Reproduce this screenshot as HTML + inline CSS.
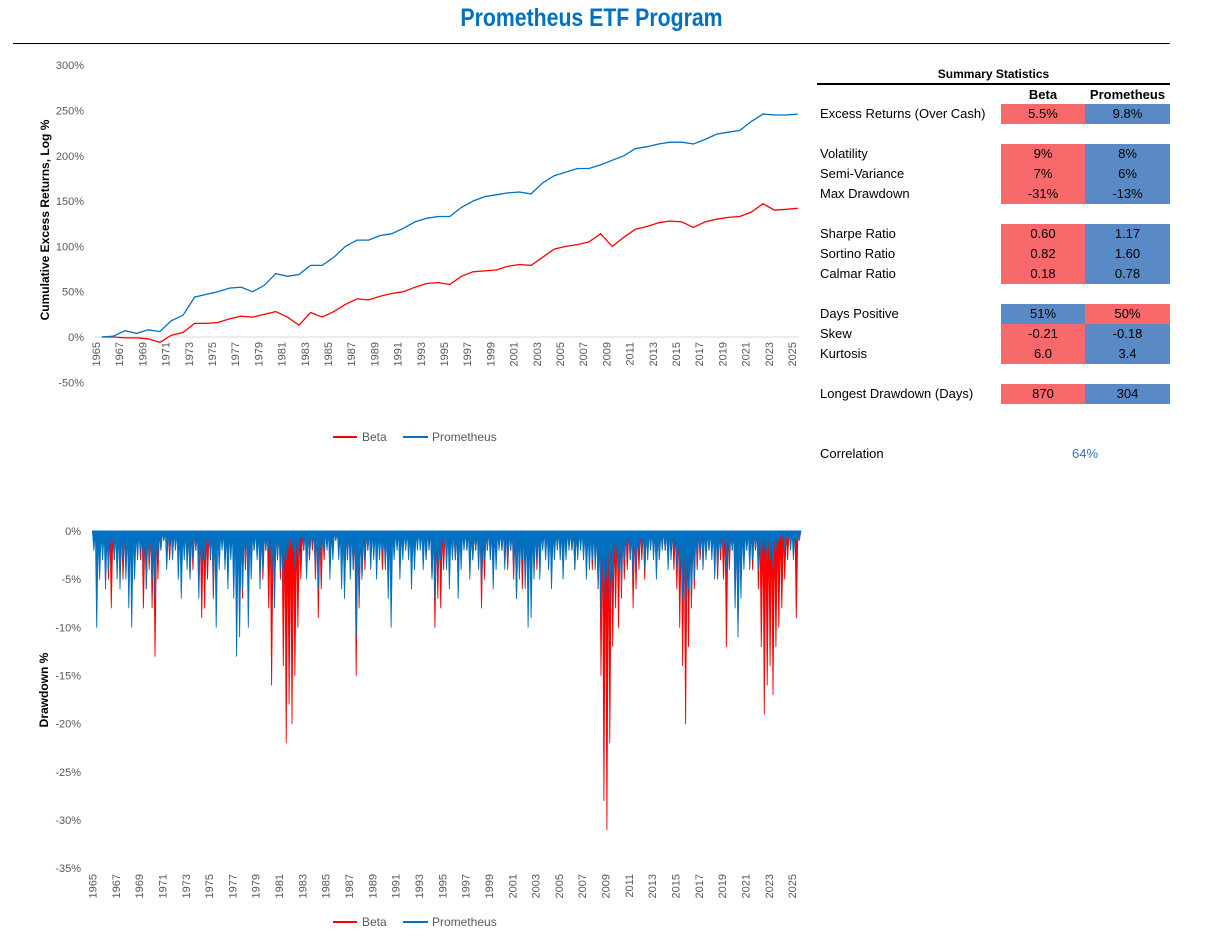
<!DOCTYPE html>
<html><head><meta charset="utf-8">
<style>
body{margin:0;width:1211px;height:951px;background:#fff;position:relative;overflow:hidden;font-family:"Liberation Sans",sans-serif}
.t{position:absolute;font-size:13px;color:#000;line-height:20px;white-space:nowrap}
.c{position:absolute;width:84px;height:20px;line-height:20px;text-align:center;font-size:13px;color:#000}
.r{background:#f8696b}.b{background:#5a8ac6}
</style></head><body>
<div style="position:absolute;left:0;width:1183px;top:4px;text-align:center;font-family:'Liberation Sans Narrow','Liberation Sans',sans-serif;font-weight:bold;font-size:25px;color:#0070c0;transform:scaleX(0.85)">Prometheus ETF Program</div>
<div style="position:absolute;left:13px;top:43px;width:1157px;height:1px;background:#000"></div>

<div>
<div class="t" style="left:817px;width:353px;text-align:center;top:64px;font-weight:bold;font-size:12px">Summary Statistics</div>
<div style="position:absolute;left:817px;top:83px;width:353px;height:2px;background:#000"></div>
<div class="t" style="left:1001px;width:84px;text-align:center;top:85px;font-weight:bold">Beta</div>
<div class="t" style="left:1085px;width:85px;text-align:center;top:85px;font-weight:bold">Prometheus</div>

<div class="t" style="left:820px;top:104px">Excess Returns (Over Cash)</div>
<div class="c r" style="left:1001px;top:104px">5.5%</div>
<div class="c b" style="left:1085px;top:104px;width:85px">9.8%</div>

<div class="t" style="left:820px;top:144px">Volatility</div>
<div class="c r" style="left:1001px;top:144px">9%</div>
<div class="c b" style="left:1085px;top:144px;width:85px">8%</div>
<div class="t" style="left:820px;top:164px">Semi-Variance</div>
<div class="c r" style="left:1001px;top:164px">7%</div>
<div class="c b" style="left:1085px;top:164px;width:85px">6%</div>
<div class="t" style="left:820px;top:184px">Max Drawdown</div>
<div class="c r" style="left:1001px;top:184px">-31%</div>
<div class="c b" style="left:1085px;top:184px;width:85px">-13%</div>

<div class="t" style="left:820px;top:224px">Sharpe Ratio</div>
<div class="c r" style="left:1001px;top:224px">0.60</div>
<div class="c b" style="left:1085px;top:224px;width:85px">1.17</div>
<div class="t" style="left:820px;top:244px">Sortino Ratio</div>
<div class="c r" style="left:1001px;top:244px">0.82</div>
<div class="c b" style="left:1085px;top:244px;width:85px">1.60</div>
<div class="t" style="left:820px;top:264px">Calmar Ratio</div>
<div class="c r" style="left:1001px;top:264px">0.18</div>
<div class="c b" style="left:1085px;top:264px;width:85px">0.78</div>

<div class="t" style="left:820px;top:304px">Days Positive</div>
<div class="c b" style="left:1001px;top:304px">51%</div>
<div class="c r" style="left:1085px;top:304px;width:85px">50%</div>
<div class="t" style="left:820px;top:324px">Skew</div>
<div class="c r" style="left:1001px;top:324px">-0.21</div>
<div class="c b" style="left:1085px;top:324px;width:85px">-0.18</div>
<div class="t" style="left:820px;top:344px">Kurtosis</div>
<div class="c r" style="left:1001px;top:344px">6.0</div>
<div class="c b" style="left:1085px;top:344px;width:85px">3.4</div>

<div class="t" style="left:820px;top:384px">Longest Drawdown (Days)</div>
<div class="c r" style="left:1001px;top:384px">870</div>
<div class="c b" style="left:1085px;top:384px;width:85px">304</div>

<div class="t" style="left:820px;top:444px">Correlation</div>
<div class="t" style="left:1001px;width:168px;text-align:center;top:444px;color:#2f75c7">64%</div>
</div>

<svg id="chart" width="1211" height="951" style="position:absolute;left:0;top:0" font-family="'Liberation Sans Narrow','Liberation Sans',sans-serif"></svg>

<script>
const years=[1965,1966,1967,1968,1969,1970,1971,1972,1973,1974,1975,1976,1977,1978,1979,1980,1981,1982,1983,1984,1985,1986,1987,1988,1989,1990,1991,1992,1993,1994,1995,1996,1997,1998,1999,2000,2001,2002,2003,2004,2005,2006,2007,2008,2009,2010,2011,2012,2013,2014,2015,2016,2017,2018,2019,2020,2021,2022,2023,2024,2025];
const betaCum=[0,0,-1,-1,-2,-6,2,5,15,15,16,20,23,22,25,28,22,13,27,22,28,36,42,41,45,48,50,55,59,60,58,67,72,73,74,78,80,79,88,97,100,102,105,114,100,110,119,122,126,128,127,121,127,130,132,133,138,147,140,141,142];
const promCum=[0,1,7,4,8,6,18,24,44,47,50,54,55,50,57,70,67,69,79,79,88,100,107,107,112,114,120,127,131,133,133,143,150,155,157,159,160,158,170,178,182,186,186,190,195,200,208,210,213,215,215,213,218,224,226,228,238,246,245,245,246];
const topTicks=[300,250,200,150,100,50,0,-50];
const ddTicks=[0,-5,-10,-15,-20,-25,-30,-35];
const betaDD=[-1,-3,-2,-1,-2,-5,-8,-3,-1,-3,-5,-2,-2,-4,-3,-1,-3,-8,-6,-4,-8,-13,-5,-2,-1,-2,-3,-1,-1,-2,-1,-2,-3,-5,-4,-2,-6,-9,-8,-5,-3,-7,-4,-2,-1,-3,-2,-1,-3,-5,-9,-7,-4,-6,-3,-2,-1,-3,-5,-2,-8,-16,-6,-3,-5,-14,-22,-18,-20,-15,-10,-5,-2,-4,-3,-2,-5,-9,-6,-3,-1,-3,-2,-1,-2,-4,-6,-3,-2,-4,-15,-8,-5,-4,-2,-3,-1,-3,-2,-4,-3,-6,-4,-2,-1,-3,-2,-1,-2,-3,-2,-1,-1,-2,-3,-1,-5,-10,-7,-8,-4,-2,-1,-2,-3,-5,-2,-1,-2,-4,-3,-2,-3,-8,-5,-2,-2,-4,-3,-1,-2,-3,-4,-2,-5,-7,-4,-6,-4,-6,-3,-2,-4,-2,-1,-2,-3,-4,-2,-1,-2,-3,-2,-1,-2,-4,-2,-1,-1,-3,-2,-4,-3,-6,-15,-28,-31,-22,-12,-8,-10,-7,-5,-4,-3,-8,-6,-4,-3,-5,-2,-1,-2,-4,-3,-1,-2,-3,-2,-4,-6,-10,-14,-20,-12,-8,-6,-4,-3,-2,-1,-2,-2,-4,-5,-3,-5,-12,-4,-2,-6,-10,-5,-3,-2,-3,-4,-2,-6,-12,-19,-16,-14,-17,-12,-10,-8,-5,-3,-1,-2,-9,-1];
const promDD=[-2,-10,-5,-3,-6,-4,-2,-3,-5,-6,-3,-5,-8,-10,-5,-3,-2,-4,-6,-3,-5,-7,-3,-2,-1,-4,-2,-3,-2,-5,-7,-3,-4,-5,-3,-2,-7,-4,-3,-2,-3,-6,-10,-4,-2,-4,-6,-3,-7,-13,-11,-6,-3,-10,-5,-2,-3,-6,-4,-2,-2,-5,-8,-3,-4,-6,-3,-2,-2,-4,-3,-1,-2,-5,-3,-1,-4,-6,-3,-2,-2,-5,-3,-1,-3,-6,-7,-3,-5,-4,-11,-7,-5,-3,-2,-4,-3,-5,-3,-2,-4,-7,-10,-3,-2,-5,-3,-2,-3,-6,-4,-2,-2,-4,-3,-2,-5,-7,-5,-3,-2,-4,-6,-3,-3,-7,-4,-2,-2,-5,-3,-2,-4,-6,-3,-2,-3,-6,-4,-2,-2,-4,-3,-2,-4,-7,-5,-3,-6,-10,-9,-5,-3,-5,-2,-3,-4,-6,-3,-2,-3,-5,-3,-2,-2,-4,-3,-2,-3,-5,-4,-3,-4,-6,-9,-7,-5,-8,-5,-3,-4,-6,-3,-2,-3,-5,-4,-2,-2,-4,-3,-2,-3,-5,-3,-2,-2,-4,-3,-2,-4,-5,-7,-9,-6,-8,-5,-3,-2,-4,-3,-2,-3,-5,-4,-2,-2,-4,-3,-2,-8,-11,-7,-4,-2,-4,-3,-2,-4,-3,-2,-3,-3,-4,-2,-1,-1,-2,-1,-2,-3,-1,-1];

const NS='http://www.w3.org/2000/svg';
const svg=document.getElementById('chart');
function el(tag,attrs,parent){const e=document.createElementNS(NS,tag);for(const k in attrs)e.setAttribute(k,attrs[k]);(parent||svg).appendChild(e);return e;}

const tx=y=>96+(y-1965)*11.6;
const ty=v=>337-v*0.906;
const bx=i=>92.5+i*(11.66/4);
const byr=y=>92.5+(y-1965)*11.66;
const by=v=>531-v*9.63;

const ax1=el('line',{x1:95,y1:ty(0),x2:799,y2:ty(0),stroke:'#d9d9d9','stroke-width':1});


topTicks.forEach(v=>{
  const t=el('text',{x:84,y:ty(v)+4,'text-anchor':'end','font-size':11,fill:'#595959'});
  t.textContent=v+'%';
  
  
});
for(let y=1965;y<=2025;y+=2){
  const x=tx(y);
  const t=el('text',{x:0,y:0,'text-anchor':'end','font-size':11,fill:'#595959',transform:`translate(${x+4},342) rotate(-90)`});
  t.textContent=y;
  
  
}
function linePts(arr,fx,fy){return arr.map((v,i)=>fx(i).toFixed(1)+','+fy(v).toFixed(1)).join(' ');}
const bl=el('polyline',{points:linePts(betaCum,i=>tx(years[i]+0.5),ty),fill:'none',stroke:'#ff0000','stroke-width':1.3});


const pl=el('polyline',{points:linePts(promCum,i=>tx(years[i]+0.5),ty),fill:'none',stroke:'#0070c0','stroke-width':1.3});


const yt1=el('text',{x:0,y:0,'text-anchor':'middle','font-size':12,'font-weight':'bold',fill:'#000','font-family':'Liberation Sans, sans-serif',transform:'translate(49,220) rotate(-90)'});
yt1.textContent='Cumulative Excess Returns, Log %';



function legend(y,prefix){
  const g=el('g',{});
  
  
  el('line',{x1:333,x2:357,y1:y,y2:y,stroke:'#ff0000','stroke-width':2},g);
  const a=el('text',{x:362,y:y+4,'font-size':12,fill:'#595959'},g);a.textContent='Beta';
  
  
  el('line',{x1:403,x2:428,y1:y,y2:y,stroke:'#0070c0','stroke-width':2},g);
  const b=el('text',{x:432,y:y+4,'font-size':12,fill:'#595959'},g);b.textContent='Prometheus';
  
  
}
legend(437,'top');

const ax2=el('line',{x1:92,y1:by(0),x2:799,y2:by(0),stroke:'#d9d9d9','stroke-width':1});


ddTicks.forEach(v=>{
  const t=el('text',{x:81,y:by(v)+4,'text-anchor':'end','font-size':11,fill:'#595959'});
  t.textContent=v+'%';
  
  
});
for(let y=1965;y<=2025;y+=2){
  const t=el('text',{x:0,y:0,'text-anchor':'end','font-size':11,fill:'#595959',transform:`translate(${byr(y)+4},874) rotate(-90)`});
  t.textContent=y;
  
  
}
function ddSeries(arr,color,name){
  const g=el('g',{});
  
  
  const w=11.66/4;
  let d='';
  arr.forEach((v,i)=>{const x=bx(i);d+=`M${x.toFixed(1)},${by(0)}L${(x+w*0.45).toFixed(1)},${by(v).toFixed(1)}L${(x+w).toFixed(1)},${by(0)}Z`;});
  el('path',{d:d,fill:color,stroke:color,'stroke-width':0.9,'stroke-linejoin':'round'},g);
}
ddSeries(betaDD,'#ff0000','beta-drawdown-series');
ddSeries(promDD,'#0070c0','prometheus-drawdown-series');
const yt2=el('text',{x:0,y:0,'text-anchor':'middle','font-size':12,'font-weight':'bold',fill:'#000','font-family':'Liberation Sans, sans-serif',transform:'translate(48,690) rotate(-90)'});
yt2.textContent='Drawdown %';


legend(922,'drawdown');
</script>
</body></html>
